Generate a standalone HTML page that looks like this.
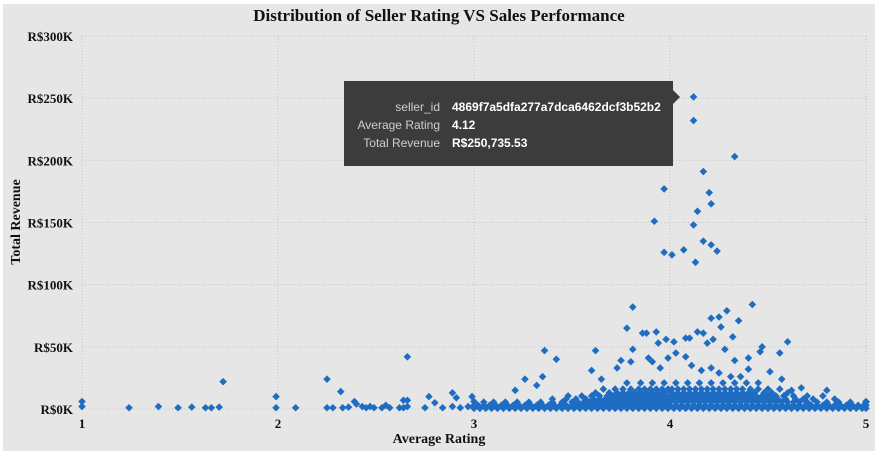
<!DOCTYPE html>
<html><head><meta charset="utf-8"><style>
html,body{margin:0;padding:0;background:#fff;}
svg{display:block;}
</style></head><body>
<svg id="chart" width="878" height="454" xmlns="http://www.w3.org/2000/svg">
<rect x="3" y="4" width="872" height="447" fill="#e6e6e6"/>
<text x="439" y="21" text-anchor="middle" font-family="Liberation Serif, serif" font-weight="bold" font-size="17" fill="#111">Distribution of Seller Rating VS Sales Performance</text>
<g id="grid"></g>
<g id="yticks"></g>
<g id="xticks"></g>
<g id="points"></g>
<text x="439" y="443" text-anchor="middle" font-family="Liberation Serif, serif" font-weight="bold" font-size="14" fill="#111">Average Rating</text>
<text transform="translate(20,222) rotate(-90)" text-anchor="middle" font-family="Liberation Serif, serif" font-weight="bold" font-size="14" fill="#111">Total Revenue</text>
<g>
<rect x="344" y="81" width="329" height="85" fill="#3c3c3c"/>
<polygon points="673,90 680,97 673,104" fill="#3c3c3c"/>
<g font-family="Liberation Sans, sans-serif" font-size="12">
<text x="440" y="111" text-anchor="end" fill="#cfcfcf">seller_id</text>
<text x="452" y="111" fill="#fff" font-weight="bold">4869f7a5dfa277a7dca6462dcf3b52b2</text>
<text x="440" y="129" text-anchor="end" fill="#cfcfcf">Average Rating</text>
<text x="452" y="129" fill="#fff" font-weight="bold">4.12</text>
<text x="440" y="147" text-anchor="end" fill="#cfcfcf">Total Revenue</text>
<text x="452" y="147" fill="#fff" font-weight="bold">R$250,735.53</text>
</g>
</g>
</svg>
<script>
const yTicks=[0,50,100,150,200,250,300];
const yTickLabels=["R$0K","R$50K","R$100K","R$150K","R$200K","R$250K","R$300K"];
const xTicks=[1,2,3,4,5];
// scattered sellers: [rating, revenue in K]
const outlierPoints=[[4.12,251],[4.12,232],[4.33,203],[4.17,191],[3.97,177],[4.20,174],[4.21,165],[4.14,159],[3.92,151],[4.12,148],[4.17,135],[4.21,132],[4.24,127],[3.97,126],[4.01,124],[4.07,128],[4.13,118],
[3.81,82],[4.42,84],[3.78,65],[3.86,61],[3.88,61],[3.93,62],[4.21,73],[4.25,74],[4.29,79],[4.35,71],[3.36,47],[3.42,40],[3.62,47],[4.60,54],[4.47,50],[3.81,48],[3.98,56],[4.02,54],[4.08,57],[4.10,57],[4.14,62],[4.17,61],[4.19,53],[4.22,56],[4.26,66],[4.32,58],[3.94,53],[4.56,45],[4.46,46],
[3.26,24],[3.35,26],[3.32,19],[3.21,15],[2.89,13],[3.60,31],[3.65,24],[3.73,33],[3.75,39],[3.80,38],[3.89,41],[3.91,38],[3.95,33],[3.99,41],[4.03,45],[4.08,42],[4.11,35],[4.16,31],[4.21,33],[4.25,29],[4.28,48],[4.33,39],[4.36,26],[4.40,32],[4.51,30],[4.57,24],[4.67,17],[4.80,15],[4.62,15],[4.40,41],[4.31,26],
[1.0,6],[1.0,2],[1.24,1],[1.39,2],[1.49,1],[1.56,1.5],[1.63,1],[1.66,1],[1.70,1.5],[1.72,22],[1.99,10],[1.99,1],[2.09,1],[2.25,24],[2.32,14],[2.25,1],[2.28,1],[2.33,1],[2.36,1.5],[2.39,6],[2.40,4],[2.43,2],[2.45,1],[2.47,2],[2.49,1],[2.53,1],[2.55,3],[2.57,1],[2.62,1],[2.64,1],[2.64,7],[2.66,7],[2.66,42],[2.66,2],[2.75,1],[2.77,10],[2.80,5],[2.84,1],[2.89,2],[2.91,9],[2.93,1],[2.97,2],[2.99,10],[3.0,6],[3.0,1],[5.0,3],[5.0,6],[4.0,8],[4.0,14],[3.0,3]];
// dense low-revenue band, rows by revenue level
const bandRow1=[3.00,3.03,3.06,3.09,3.12,3.15,3.18,3.21,3.24,3.27,3.30,3.33,3.36,3.39,3.42,3.45,3.48,3.51,3.54,3.57,3.60,3.63,3.66,3.69,3.72,3.75,3.78,3.81,3.84,3.87,3.90,3.93,3.96,3.99,4.02,4.05,4.08,4.11,4.14,4.17,4.20,4.23,4.26,4.29,4.32,4.35,4.38,4.41,4.44,4.47,4.50,4.53,4.56,4.59,4.62,4.65,4.68,4.71,4.74,4.77,4.80,4.83,4.86,4.89,4.92,4.95,4.98,5.00];
const bandRow1b=[3.02,3.05,3.08,3.11,3.14,3.17,3.20,3.23,3.26,3.29,3.32,3.35,3.38,3.41,3.44,3.47,3.50,3.52,3.55,3.58,3.61,3.64,3.67,3.70,3.73,3.76,3.79,3.82,3.85,3.88,3.91,3.94,3.97,4.00,4.03,4.06,4.09,4.12,4.15,4.18,4.21,4.24,4.27,4.30,4.33,4.36,4.39,4.42,4.45,4.48,4.51,4.54,4.57,4.60,4.63,4.66,4.69,4.72,4.75,4.78,4.81,4.84,4.87,4.90,4.93,4.96,4.99];
const bandRow2=[3.05,3.10,3.16,3.22,3.28,3.34,3.40,3.45,3.50,3.53,3.56,3.59,3.62,3.65,3.68,3.71,3.74,3.77,3.80,3.83,3.86,3.89,3.92,3.95,3.98,4.00,4.03,4.06,4.09,4.12,4.15,4.18,4.21,4.24,4.27,4.30,4.33,4.36,4.39,4.42,4.45,4.48,4.51,4.54,4.57,4.60,4.63,4.66,4.70,4.75,4.80,4.86,4.92,5.00];
const bandRow2b=[3.40,3.47,3.52,3.57,3.61,3.64,3.67,3.70,3.73,3.76,3.79,3.82,3.85,3.88,3.91,3.94,3.97,4.01,4.04,4.07,4.10,4.13,4.16,4.19,4.22,4.25,4.28,4.31,4.34,4.37,4.40,4.43,4.46,4.49,4.52,4.55,4.59,4.64,4.68,4.73,4.84];
const bandRow3=[3.48,3.55,3.60,3.64,3.68,3.71,3.74,3.77,3.80,3.83,3.86,3.89,3.92,3.95,3.98,4.00,4.02,4.05,4.08,4.11,4.14,4.17,4.20,4.23,4.26,4.29,4.32,4.35,4.38,4.41,4.44,4.47,4.50,4.54,4.58,4.63,4.70,4.78];
const bandRow3b=[3.62,3.69,3.73,3.76,3.79,3.82,3.85,3.88,3.91,3.94,3.97,4.01,4.04,4.07,4.10,4.13,4.16,4.19,4.22,4.25,4.28,4.31,4.34,4.37,4.40,4.43,4.48,4.52,4.60];
const bandRow4=[3.66,3.72,3.76,3.80,3.84,3.87,3.90,3.93,3.96,3.99,4.01,4.04,4.07,4.10,4.13,4.16,4.19,4.22,4.25,4.28,4.31,4.34,4.37,4.41,4.45,4.50,4.56];
const bandRow5=[3.78,3.85,3.91,3.97,4.03,4.09,4.15,4.21,4.27,4.33,4.39,4.45];
const bandLevels=[0.5,3,5.5,8,10.5,13,16,21];
const bandRows=[bandRow1,bandRow1b,bandRow2,bandRow2b,bandRow3,bandRow3b,bandRow4,bandRow5];

const NS="http://www.w3.org/2000/svg";
const X0=82,X1=866,Y0=409,Y1=36;
function xs(v){return X0+(v-1)/(5-1)*(X1-X0);}
function ys(v){return Y0-(v/300)*(Y0-Y1);}
const grid=document.getElementById('grid');
yTicks.forEach((t,i)=>{
  const l=document.createElementNS(NS,'line');
  
  
  l.setAttribute('x1',X0);l.setAttribute('x2',X1);l.setAttribute('y1',ys(t));l.setAttribute('y2',ys(t));
  l.setAttribute('stroke','#c4c4c4');l.setAttribute('stroke-dasharray','1,2');
  grid.appendChild(l);
  const tx=document.createElementNS(NS,'text');
  
  
  tx.setAttribute('x',73);tx.setAttribute('y',ys(t)+5);tx.setAttribute('text-anchor','end');
  tx.setAttribute('font-family','Liberation Serif, serif');tx.setAttribute('font-weight','bold');tx.setAttribute('font-size','13');tx.setAttribute('fill','#111');
  tx.textContent=yTickLabels[i];
  document.getElementById('yticks').appendChild(tx);
});
xTicks.forEach(t=>{
  const l=document.createElementNS(NS,'line');
  
  
  l.setAttribute('x1',xs(t));l.setAttribute('x2',xs(t));l.setAttribute('y1',Y1);l.setAttribute('y2',Y0);
  l.setAttribute('stroke','#c4c4c4');l.setAttribute('stroke-dasharray','1,2');
  grid.appendChild(l);
  const tx=document.createElementNS(NS,'text');
  
  
  tx.setAttribute('x',xs(t));tx.setAttribute('y',428);tx.setAttribute('text-anchor','middle');
  tx.setAttribute('font-family','Liberation Serif, serif');tx.setAttribute('font-weight','bold');tx.setAttribute('font-size','13');tx.setAttribute('fill','#111');
  tx.textContent=t;
  document.getElementById('xticks').appendChild(tx);
});
const pg=document.getElementById('points');
function diamond(r,v){
  const cx=xs(r),cy=ys(v),s=3.8;
  const p=document.createElementNS(NS,'polygon');
  
  
  p.setAttribute('points',`${cx},${cy-s} ${cx+s},${cy} ${cx},${cy+s} ${cx-s},${cy}`);
  p.setAttribute('fill','#1f6dc2');
  pg.appendChild(p);
}
bandRows.forEach((row,i)=>row.forEach(r=>diamond(r,bandLevels[i])));
outlierPoints.forEach(p=>diamond(p[0],p[1]));
</script>
</body></html>
